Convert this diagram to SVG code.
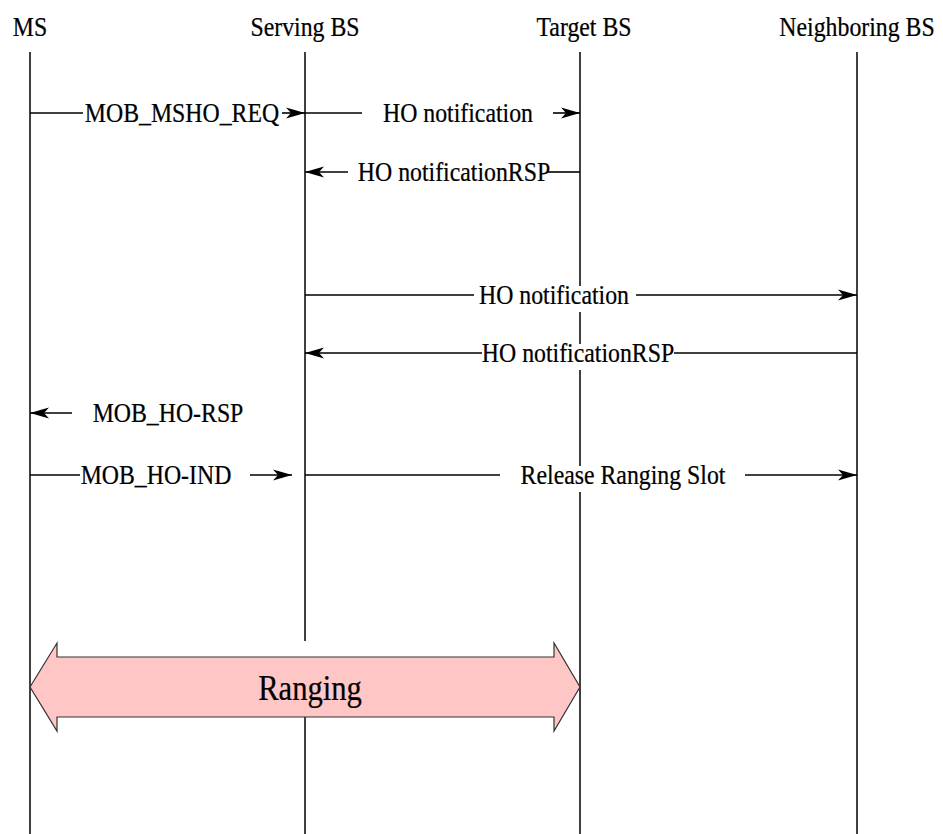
<svg xmlns="http://www.w3.org/2000/svg" width="943" height="834" viewBox="0 0 943 834">
  <style>
    .life { stroke: #000; stroke-width: 1.5; fill: none; }
    .msg { stroke: #000; stroke-width: 1.6; fill: none; }
    .t { font-family: "Liberation Serif", "Times New Roman", serif; font-size: 28px; fill: #000; stroke: #000; stroke-width: 0.25; text-anchor: middle; }
    .bg { fill: #fff; }
  </style>
  <defs>
    <marker id="arr" markerUnits="userSpaceOnUse" markerWidth="22" markerHeight="14" viewBox="0 -7 20 14" refX="19" refY="0" orient="auto">
      <path d="M0,-5.5 L19,0 L0,5.5 L5,0 z" fill="#000"/>
    </marker>
  </defs>
  <rect width="943" height="834" fill="#fff"/>

  <g id="node-ms">
    <line class="life" x1="30" y1="52" x2="30" y2="834"/>
    <text class="t" transform="translate(30,36) scale(0.85,1)">MS</text>
  </g>
  <g id="node-serving">
    <line class="life" x1="305" y1="52" x2="305" y2="641"/>
    <line class="life" x1="305" y1="717" x2="305" y2="834"/>
    <text class="t" transform="translate(305,36) scale(0.85,1)">Serving BS</text>
  </g>
  <g id="node-target">
    <line class="life" x1="580" y1="52" x2="580" y2="834"/>
    <text class="t" transform="translate(584,36) scale(0.85,1)">Target BS</text>
  </g>
  <g id="node-neighbor">
    <line class="life" x1="857" y1="52" x2="857" y2="834"/>
    <text class="t" transform="translate(857,36) scale(0.85,1)">Neighboring BS</text>
  </g>

  <g id="connectors">
    <!-- MOB_MSHO_REQ -->
    <line class="msg" x1="30" y1="113" x2="83" y2="113"/>
    <line class="msg" x1="282" y1="113" x2="305" y2="113" marker-end="url(#arr)"/>
    <!-- HO notification (target) -->
    <line class="msg" x1="305" y1="113" x2="362" y2="113"/>
    <line class="msg" x1="553" y1="113" x2="580" y2="113" marker-end="url(#arr)"/>
    <!-- HO notificationRSP (target) -->
    <line class="msg" x1="548" y1="172" x2="580" y2="172"/>
    <line class="msg" x1="348" y1="172" x2="305" y2="172" marker-end="url(#arr)"/>
    <!-- HO notification (neighbor) -->
    <line class="msg" x1="305" y1="295" x2="474" y2="295"/>
    <line class="msg" x1="636" y1="295" x2="857" y2="295" marker-end="url(#arr)"/>
    <!-- HO notificationRSP (neighbor) -->
    <line class="msg" x1="857" y1="353" x2="672" y2="353"/>
    <line class="msg" x1="484" y1="353" x2="305" y2="353" marker-end="url(#arr)"/>
    <!-- MOB_HO-RSP -->
    <line class="msg" x1="72" y1="413" x2="30" y2="413" marker-end="url(#arr)"/>
    <!-- MOB_HO-IND -->
    <line class="msg" x1="30" y1="475" x2="80" y2="475" stroke="#888"/>
    <line class="msg" x1="250" y1="475" x2="292" y2="475" marker-end="url(#arr)"/>
    <!-- Release Ranging Slot -->
    <line class="msg" x1="305" y1="475" x2="500" y2="475"/>
    <line class="msg" x1="745" y1="475" x2="857" y2="475" marker-end="url(#arr)"/>
  </g>

  <g id="labels">
    <text class="t" transform="translate(182,122) scale(0.85,1)">MOB_MSHO_REQ</text>
    <text class="t" transform="translate(458,122) scale(0.85,1)">HO notification</text>
    <text class="t" transform="translate(454,181) scale(0.85,1)">HO notificationRSP</text>
    <rect class="bg" x="476" y="286" width="156" height="26"/>
    <text class="t" transform="translate(554,304) scale(0.85,1)">HO notification</text>
    <rect class="bg" x="482" y="344" width="192" height="26"/>
    <text class="t" transform="translate(578,362) scale(0.85,1)">HO notificationRSP</text>
    <text class="t" transform="translate(168,422) scale(0.85,1)">MOB_HO-RSP</text>
    <text class="t" transform="translate(156,484) scale(0.85,1)">MOB_HO-IND</text>
    <rect class="bg" x="517" y="466" width="212" height="26"/>
    <text class="t" transform="translate(623,484) scale(0.85,1)">Release Ranging Slot</text>
  </g>

  <g id="node-ranging">
    <polygon points="30,687 57,643 57,657 554,657 554,643 580,687 554,731 554,717 57,717 57,731" fill="#ffc6c6" stroke="#333" stroke-width="1.2" stroke-linejoin="miter"/>
    <text class="t" style="font-size:36px" transform="translate(310,700) scale(0.85,1)">Ranging</text>
  </g>
</svg>
